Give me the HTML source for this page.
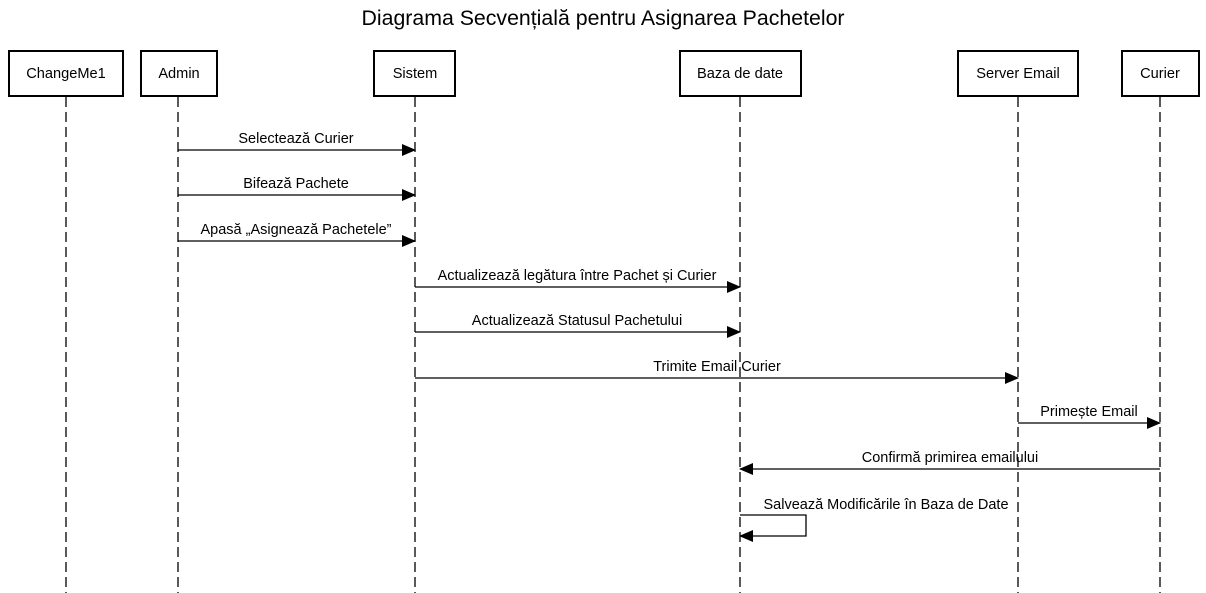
<!DOCTYPE html>
<html><head><meta charset="utf-8"><style>
html,body{margin:0;padding:0;background:#fff;}
svg{display:block;font-family:"Liberation Sans",Arial,sans-serif;}
</style></head><body>
<svg width="1206" height="593" viewBox="0 0 1206 593" xmlns="http://www.w3.org/2000/svg">
<defs>
<marker id="a" markerWidth="14" markerHeight="12" refX="13" refY="6" orient="auto" markerUnits="userSpaceOnUse">
<path d="M0,0 L14,6 L0,12 Z" fill="#000"/></marker>
</defs>
<text x="603" y="25" font-size="21.3" text-anchor="middle">Diagrama Secvențială pentru Asignarea Pachetelor</text>
<g stroke="#000" stroke-width="1.3" stroke-dasharray="10,5" fill="none">
<line x1="66" y1="97" x2="66" y2="593"/>
<line x1="178" y1="97" x2="178" y2="593"/>
<line x1="415" y1="97" x2="415" y2="593"/>
<line x1="740" y1="97" x2="740" y2="593"/>
<line x1="1018" y1="97" x2="1018" y2="593"/>
<line x1="1160" y1="97" x2="1160" y2="593"/>
</g>
<g stroke="#000" stroke-width="2" fill="#fff">
<rect x="9" y="51" width="114" height="45"/>
<rect x="141" y="51" width="76" height="45"/>
<rect x="374" y="51" width="81" height="45"/>
<rect x="680" y="51" width="121" height="45"/>
<rect x="958" y="51" width="120" height="45"/>
<rect x="1122" y="51" width="77" height="45"/>
</g>
<g font-size="14.6" text-anchor="middle">
<text x="66" y="78">ChangeMe1</text>
<text x="179" y="78">Admin</text>
<text x="415" y="78">Sistem</text>
<text x="740" y="78">Baza de date</text>
<text x="1018" y="78">Server Email</text>
<text x="1160" y="78">Curier</text>
</g>
<g stroke="#000" stroke-width="1.3" fill="none" marker-end="url(#a)">
<line x1="178" y1="150" x2="415" y2="150"/>
<line x1="178" y1="195" x2="415" y2="195"/>
<line x1="178" y1="241" x2="415" y2="241"/>
<line x1="415" y1="287" x2="740" y2="287"/>
<line x1="415" y1="332" x2="740" y2="332"/>
<line x1="415" y1="378" x2="1018" y2="378"/>
<line x1="1018" y1="423" x2="1160" y2="423"/>
<line x1="1160" y1="469" x2="740" y2="469"/>
<polyline points="740,515 806,515 806,536 740,536"/>
</g>
<g font-size="14.5" text-anchor="middle">
<text x="296" y="143">Selectează Curier</text>
<text x="296" y="188">Bifează Pachete</text>
<text x="296" y="234">Apasă „Asignează Pachetele”</text>
<text x="577" y="280">Actualizează legătura între Pachet și Curier</text>
<text x="577" y="325">Actualizează Statusul Pachetului</text>
<text x="717" y="371">Trimite Email Curier</text>
<text x="1089" y="416">Primește Email</text>
<text x="950" y="462">Confirmă primirea emailului</text>
<text x="886" y="509">Salvează Modificările în Baza de Date</text>
</g>
</svg>
</body></html>
